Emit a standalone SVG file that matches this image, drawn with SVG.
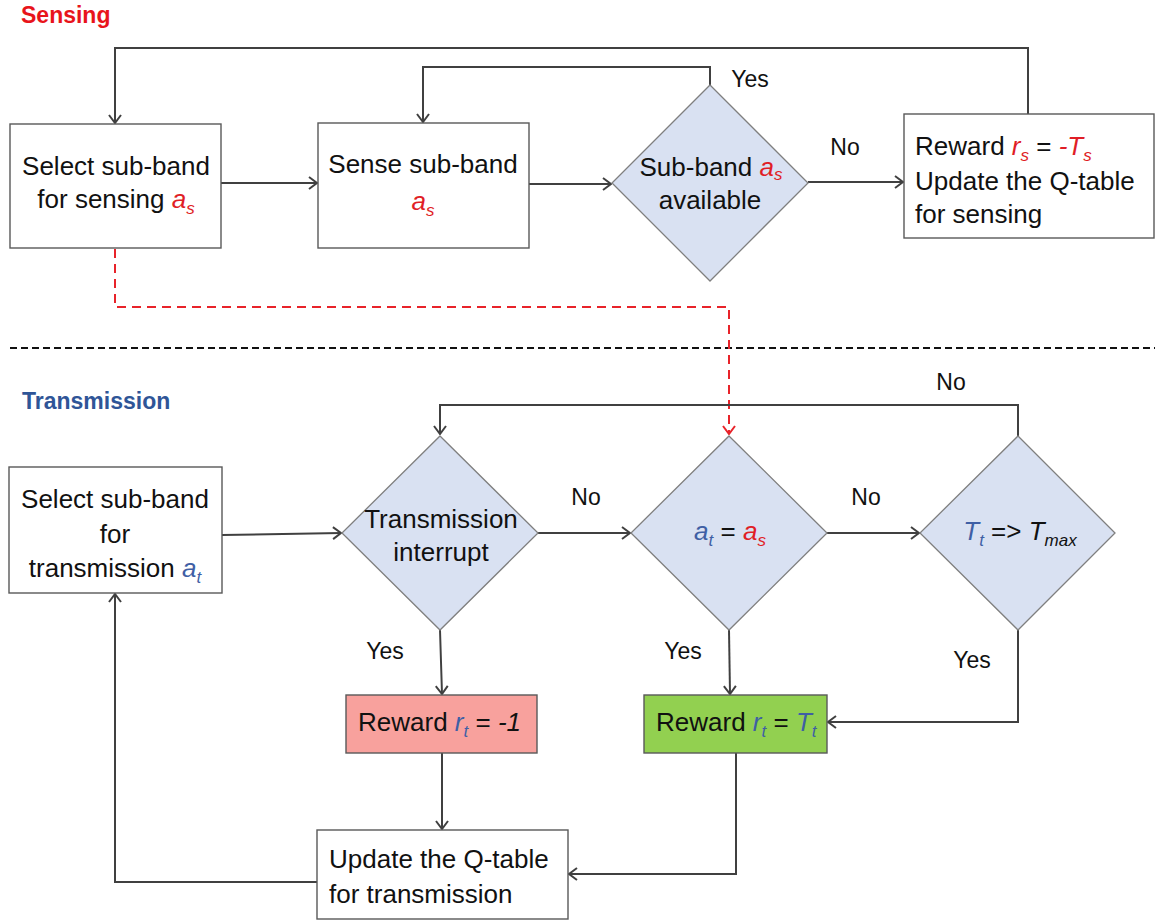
<svg xmlns="http://www.w3.org/2000/svg" width="1155" height="922" viewBox="0 0 1155 922">
  <defs>
    <style>
      text { font-family: "Liberation Sans", Arial, sans-serif; fill: #111; }
      .body { font-size: 26px; }
      .lbl { font-size: 23px; }
      .title { font-size: 23px; font-weight: bold; }
      .box { fill: #fff; stroke: #595959; stroke-width: 1.4; }
      .dia { fill: #d9e1f2; stroke: #7f7f7f; stroke-width: 1.3; }
      .conn { fill: none; stroke: #404040; stroke-width: 2; marker-end: url(#arr); }
      .dash { fill: none; stroke: #e8232a; stroke-width: 2; stroke-dasharray: 9 6; marker-end: url(#arrRed); }
      .sep { fill: none; stroke: #111; stroke-width: 2; stroke-dasharray: 7 4; }
      .mr { fill: #e01e26; font-style: italic; }
      .mb { fill: #3f5fa5; font-style: italic; }
      .mk { fill: #111; font-style: italic; }
      .sub { font-size: 17px; }
    </style>
    <marker id="arr" viewBox="0 0 10 14" refX="9" refY="7" markerWidth="10" markerHeight="14" markerUnits="userSpaceOnUse" orient="auto">
      <path d="M1,1 L9,7 L1,13" fill="none" stroke="#404040" stroke-width="2"/>
    </marker>
    <marker id="arrRed" viewBox="0 0 10 14" refX="9" refY="7" markerWidth="10" markerHeight="14" markerUnits="userSpaceOnUse" orient="auto">
      <path d="M1,1 L9,7 L1,13" fill="none" stroke="#e8232a" stroke-width="2"/>
    </marker>
  </defs>

  <!-- section titles -->
  <text class="title" x="21" y="23" style="fill:#e8141b">Sensing</text>
  <text class="title" x="22" y="409" style="fill:#2f5597">Transmission</text>

  <!-- section separator -->
  <path class="sep" d="M10,348 H1155"/>

  <!-- connectors -->
  <g id="connectors">
    <path class="conn" d="M221,183 H317"/>
    <path class="conn" d="M529,184 H611"/>
    <path class="conn" d="M808,182 H903"/>
    <path class="conn" d="M710,85 V67 H423 V122"/>
    <path class="conn" d="M1028,114 V48 H115 V123"/>
    <path class="dash" d="M115,249 V307 H729 V434"/>
    <path class="conn" d="M222,535 L341,533"/>
    <path class="conn" d="M538,533 H630"/>
    <path class="conn" d="M827,533 H919"/>
    <path class="conn" d="M1018,436 V405 H440 V434"/>
    <path class="conn" d="M440,630 L442,694"/>
    <path class="conn" d="M729,630 L730,694"/>
    <path class="conn" d="M1018,630 V722 H828"/>
    <path class="conn" d="M442,753 V829"/>
    <path class="conn" d="M736,753 V874 H569"/>
    <path class="conn" d="M317,882 H115 V594"/>
  </g>

  <!-- connector labels -->
  <g id="labels">
    <text class="lbl" x="750" y="87" text-anchor="middle">Yes</text>
    <text class="lbl" x="845" y="155" text-anchor="middle">No</text>
    <text class="lbl" x="951" y="390" text-anchor="middle">No</text>
    <text class="lbl" x="586" y="505" text-anchor="middle">No</text>
    <text class="lbl" x="866" y="505" text-anchor="middle">No</text>
    <text class="lbl" x="385" y="659" text-anchor="middle">Yes</text>
    <text class="lbl" x="683" y="659" text-anchor="middle">Yes</text>
    <text class="lbl" x="972" y="668" text-anchor="middle">Yes</text>
  </g>

  <!-- sensing nodes -->
  <g id="select-sense">
    <rect class="box" x="10" y="124" width="211" height="124"/>
    <text class="body" x="116" y="175" text-anchor="middle">Select sub-band</text>
    <text class="body" x="116" y="208" text-anchor="middle">for sensing <tspan class="mr">a</tspan><tspan class="mr sub" dy="6">s</tspan></text>
  </g>
  <g id="sense">
    <rect class="box" x="318" y="123" width="211" height="125"/>
    <text class="body" x="423" y="173" text-anchor="middle">Sense sub-band</text>
    <text class="body" x="423" y="210" text-anchor="middle"><tspan class="mr">a</tspan><tspan class="mr sub" dy="6">s</tspan></text>
  </g>
  <g id="available">
    <polygon class="dia" points="710,85 808,183 710,281 612,183"/>
    <text class="body" x="711" y="176" text-anchor="middle">Sub-band <tspan class="mr">a</tspan><tspan class="mr sub" dy="4">s</tspan></text>
    <text class="body" x="710" y="209" text-anchor="middle">available</text>
  </g>
  <g id="sense-reward">
    <rect class="box" x="904" y="114" width="250" height="124"/>
    <text class="body" x="915" y="155">Reward <tspan class="mr">r</tspan><tspan class="mr sub" dy="6">s</tspan><tspan dy="-6"> = </tspan><tspan class="mr">-T</tspan><tspan class="mr sub" dy="6">s</tspan></text>
    <text class="body" x="915" y="190">Update the Q-table</text>
    <text class="body" x="915" y="223">for sensing</text>
  </g>

  <!-- transmission nodes -->
  <g id="select-tx">
    <rect class="box" x="9" y="467" width="213" height="126"/>
    <text class="body" x="115" y="508" text-anchor="middle">Select sub-band</text>
    <text class="body" x="115" y="543" text-anchor="middle">for</text>
    <text class="body" x="115" y="577" text-anchor="middle">transmission <tspan class="mb">a</tspan><tspan class="mb sub" dy="6">t</tspan></text>
  </g>
  <g id="interrupt">
    <polygon class="dia" points="440,436 538,533 440,630 342,533"/>
    <text class="body" x="441" y="528" text-anchor="middle">Transmission</text>
    <text class="body" x="441" y="561" text-anchor="middle">interrupt</text>
  </g>
  <g id="same-band">
    <polygon class="dia" points="729,436 827,533 729,630 631,533"/>
    <text class="body" x="730" y="540" text-anchor="middle"><tspan class="mb">a</tspan><tspan class="mb sub" dy="6">t</tspan><tspan dy="-6"> = </tspan><tspan class="mr">a</tspan><tspan class="mr sub" dy="6">s</tspan></text>
  </g>
  <g id="time-limit">
    <polygon class="dia" points="1018,436 1115,533 1018,630 920,533"/>
    <text class="body" x="1020" y="540" text-anchor="middle"><tspan class="mb">T</tspan><tspan class="mb sub" dy="6">t</tspan><tspan dy="-6"> =&gt; </tspan><tspan class="mk">T</tspan><tspan class="mk sub" dy="6">max</tspan></text>
  </g>
  <g id="reward-fail">
    <rect x="346" y="695" width="191" height="58" style="fill:#f8a19d;stroke:#595959;stroke-width:1.4"/>
    <text class="body" x="358" y="731">Reward <tspan class="mb">r</tspan><tspan class="mb sub" dy="6">t</tspan><tspan dy="-6"> = </tspan><tspan class="mk">-1</tspan></text>
  </g>
  <g id="reward-ok">
    <rect x="644" y="695" width="183" height="58" style="fill:#92d050;stroke:#595959;stroke-width:1.4"/>
    <text class="body" x="656" y="731">Reward <tspan class="mb">r</tspan><tspan class="mb sub" dy="6">t</tspan><tspan dy="-6"> = </tspan><tspan class="mb">T</tspan><tspan class="mb sub" dy="6">t</tspan></text>
  </g>
  <g id="update-tx">
    <rect class="box" x="317" y="830" width="251" height="89"/>
    <text class="body" x="329" y="868">Update the Q-table</text>
    <text class="body" x="329" y="903">for transmission</text>
  </g>
</svg>
